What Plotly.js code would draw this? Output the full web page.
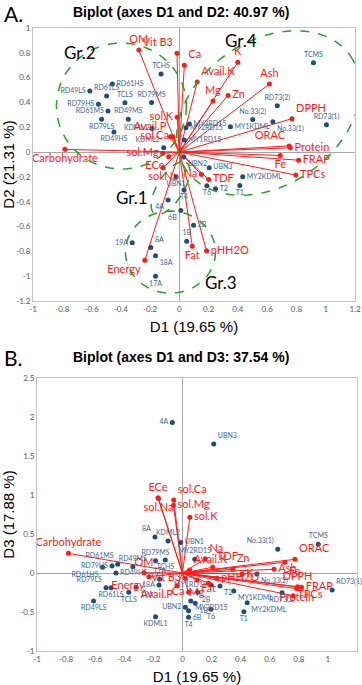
<!DOCTYPE html>
<html><head><meta charset="utf-8">
<script src="https://cdn.plot.ly/plotly-3.0.1.min.js"></script>
<style>html,body{margin:0;padding:0;background:#fff}#c{width:362px;height:685px}</style>
</head><body><div id="c"></div>
<script>
// ---------- Panel A (D1 vs D2) ----------
const sampleNamesA = ["RD61HS","RD49LS","RD61LS","TCLS","RD79MS","RD79HS","RD61MS","TCHS","RD49MS","RD79LS","RD49HS","KDML1","KDML2","UBN1","UBN2","UBN3","4A","6B","2B","1B","19A","8A","18A","17A","T1","T2","T4","T6","TCMS","RD73(1)","RD73(2)","No.33(1)","No.33(2)","MY1KDML","MY2KDML","MY1RD15","MY2RD15","MY3RD15"];
const sampleD1A = [-0.458,-0.612,-0.497,-0.372,-0.19,-0.553,-0.488,-0.125,-0.349,-0.531,-0.447,-0.186,-0.107,-0.022,0.03,0.204,-0.077,0.01,0.097,0.05,-0.322,-0.195,-0.163,-0.163,0.413,0.247,0.032,0.188,0.916,1.005,0.669,0.639,0.501,0.349,0.433,0.034,0.045,0.068];
const sampleD2A = [0.548,0.492,0.452,0.398,0.40,0.385,0.331,0.629,0.264,0.264,0.161,0.191,0.035,-0.199,-0.04,-0.126,-0.387,-0.47,-0.589,-0.718,-0.731,-0.769,-0.836,-1.0,-0.269,-0.296,-0.306,-0.271,0.72,0.22,0.374,0.245,0.262,0.204,-0.199,0.097,0.196,0.226];
const sampleLabPosA = ["middle right","middle left","top center","top center","top center","middle left","middle left","top center","top center","bottom center","bottom center","middle left","top left","bottom center","bottom right","middle right","bottom left","bottom left","middle right","top center","middle left","top right","bottom right","bottom center","bottom center","middle right","bottom center","bottom center","top center","top center","top center","bottom right","top center","middle right","middle right","middle right","middle right","middle right"];

const varNamesA = ["OM","Vit B3","Ca","K","Avail.K","Ash","Zn","Mg","DPPH","ORAC","Protein","Fe","FRAP","TPCs","Na","TDF","Carbohydrate","Avail.P","sol.Ca","sol.Mg","ECe","sol.Na","sol.K","Energy","Fat","pHH2O"];
const varD1A = [-0.277,-0.016,0.034,0.399,0.122,0.615,0.333,0.229,0.769,0.75,0.758,0.689,0.814,0.796,0.15,0.2,-0.782,-0.061,-0.043,-0.114,-0.073,-0.111,-0.015,-0.236,0.088,0.186];
const varD2A = [0.823,0.796,0.70,0.723,0.565,0.548,0.457,0.411,0.269,0.05,0.035,-0.027,-0.065,-0.185,-0.18,-0.22,0.022,0.124,0.124,-0.011,-0.038,-0.126,0.28,-0.871,-0.758,-0.796];
const varLabPosA = ["top center","top left","top right","top center","top right","top center","middle right","top center","top right","top left","middle right","bottom center","middle right","middle right","middle left","middle right","bottom center","top left","middle left","middle left","bottom left","bottom center","middle left","bottom left","bottom center","middle right"];

// ---------- Panel B (D1 vs D3) ----------
const sampleNamesB = ["4A","UBN3","8A","KDML2","UBN1","MY2RD15","RD79MS","TCHS","RD61MS","RD79HS","RD49MS","RD61HS","RD49HS","RD79LS","RD61LS","TCLS","19A","18A","17A","RD49LS","KDML1","UBN2","MY1RD15","MY3RD15","1B","2B","6B","T4","T6","T2","MY1KDML","MY2KDML","T1","No.33(2)","No.33(1)","TCMS","RD73(2)","RD73(1)"];
const sampleD1B = [-0.069,0.215,-0.189,-0.099,-0.012,0.085,-0.185,-0.118,-0.445,-0.484,-0.341,-0.549,-0.457,-0.526,-0.491,-0.369,-0.318,-0.161,-0.157,-0.611,-0.185,0.02,0.196,0.057,0.088,0.104,0.042,0.042,0.196,0.258,0.353,0.445,0.422,0.512,0.655,0.934,0.685,1.029];
const sampleD3B = [1.93,1.654,0.46,0.41,0.39,0.176,0.158,0.167,0.112,0.09,0.081,0.073,0.0,-0.188,-0.188,-0.248,-0.184,-0.154,-0.081,-0.359,-0.56,-0.44,-0.154,-0.359,-0.389,-0.248,-0.483,-0.568,-0.466,-0.167,-0.231,-0.38,-0.496,-0.013,0.303,0.368,-0.252,-0.218];
const sampleLabPosB = ["middle left","top right","top left","top center","middle right","top center","top center","bottom center","top left","middle left","top center","bottom left","middle right","top left","bottom center","bottom center","bottom right","middle left","top center","bottom center","bottom center","middle left","middle left","bottom right","bottom right","bottom right","bottom right","bottom center","bottom center","bottom right","bottom right","bottom right","bottom center","bottom right","top left","top center","bottom center","top right"];

const varNamesB = ["ECe","sol.Ca","sol.Na","sol.Mg","sol.K","Na","TDF","Zn","ORAC","Fe","Ash","K","DPPH","FRAP","TPCs","Protein","Carbohydrate","OM","Energy","Vit B3","Avail.P","Ca","Mg","pHH2O","Avail.K","Fat"];
const varD1B = [-0.168,-0.06,-0.165,-0.062,0.051,0.157,0.208,0.346,0.773,0.704,0.63,0.41,0.791,0.819,0.761,0.785,-0.784,-0.265,-0.231,0.02,-0.037,0.042,0.18,0.237,0.05,0.1];
const varD3B = [0.965,0.936,0.955,0.87,0.714,0.183,0.073,0.047,0.175,0.137,0.047,-0.013,-0.175,-0.184,-0.291,-0.2,0.252,0.004,-0.047,-0.07,-0.163,-0.248,-0.13,-0.068,0.04,-0.09];
const varLabPosB = ["top center","top right","bottom center","middle right","middle right","top right","top right","top right","top right","bottom right","middle right","middle right","top center","middle right","middle right","bottom center","top center","top center","bottom left","middle left","bottom left","middle left","bottom left","middle right","top right","bottom right"];

// tick labels
const xTickVals = [-1,-0.8,-0.6,-0.4,-0.2,0,0.2,0.4,0.6,0.8,1,1.2];
const xTickText = ["-1","-0.8","-0.6","-0.4","-0.2","0","0.2","0.4","0.6","0.8","1","1.2"];
const yTickValsA = [-1.2,-1,-0.8,-0.6,-0.4,-0.2,0,0.2,0.4,0.6,0.8,1];
const yTickTextA = ["-1.2","-1","-0.8","-0.6","-0.4","-0.2","0","0.2","0.4","0.6","0.8","1"];
const yTickValsB = [-1,-0.5,0,0.5,1,1.5,2,2.5];
const yTickTextB = ["-1","-0.5","0","0.5","1","1.5","2","2.5"];

const BLUE = "#1f4e79", BLUE_T = "#3a6898", RED = "#ff1a1a", GREEN = "#27a027";
const LF = "Lato, 'Liberation Sans', sans-serif";
const AF = "'Liberation Sans', Arial, sans-serif";

function vecLines(xs, ys){ const X=[],Y=[]; xs.forEach((v,i)=>{X.push(0,v,null);Y.push(0,ys[i],null);}); return [X,Y]; }

function panelTraces(sx, sy, sn, sp, vx, vy, vn, vp, xa, ya){
  const [lx,ly] = vecLines(vx,vy);
  return [
    {type:"scatter",mode:"lines",x:lx,y:ly,xaxis:xa,yaxis:ya,line:{color:RED,width:1},hoverinfo:"skip",showlegend:false},
    {type:"scatter",mode:"markers+text",x:sx,y:sy,text:sn,textposition:sp,xaxis:xa,yaxis:ya,
      marker:{color:BLUE,size:5},textfont:{family:LF,size:7,color:BLUE_T},showlegend:false,cliponaxis:false},
    {type:"scatter",mode:"markers+text",x:vx,y:vy,text:vn,textposition:vp,xaxis:xa,yaxis:ya,
      marker:{color:RED,size:5},textfont:{family:LF,size:11,color:RED},showlegend:false,cliponaxis:false}
  ];
}

const data = [
  ...panelTraces(sampleD1A,sampleD2A,sampleNamesA,sampleLabPosA,varD1A,varD2A,varNamesA,varLabPosA,"x","y"),
  ...panelTraces(sampleD1B,sampleD3B,sampleNamesB,sampleLabPosB,varD1B,varD3B,varNamesB,varLabPosB,"x2","y2")
];

// ellipse outlines (group envelopes) in pixel geometry converted to data units
const W=362,H=685;
const sxA = 322/2.2, syA = 273/2.2;
function ellipsePath(cx, cy, a, b, angDeg, sx, sy){
  const th = angDeg*Math.PI/180; let d="";
  for(let i=0;i<=72;i++){
    const t = i/72*2*Math.PI;
    const px = a*Math.cos(t)*Math.cos(th) - b*Math.sin(t)*Math.sin(th);
    const py = a*Math.cos(t)*Math.sin(th) + b*Math.sin(t)*Math.cos(th);
    const X = cx + px/sx, Y = cy - py/sy;
    d += (i===0?"M":"L") + X.toFixed(4) + "," + Y.toFixed(4);
  }
  return d + "Z";
}
const groupShapes = [
  {c:[-0.396,0.371],a:65,b:63,ang:0},
  {c:[0.608,0.315],a:100,b:72,ang:-35},
  {c:[-0.061,-0.29],a:30,b:13,ang:-58},
  {c:[-0.061,-0.806],a:45,b:41,ang:0}
].map(e=>({type:"path",xref:"x",yref:"y",path:ellipsePath(e.c[0],e.c[1],e.a,e.b,e.ang,sxA,syA),
  line:{color:GREEN,width:1.5,dash:"dash"},fillcolor:"rgba(0,0,0,0)"}));

const tickFont = {family:LF,size:8,color:"#595959"};
function axis(domain, range, tv, tt, anchor, title, standoff){
  return {domain, range, anchor, tickmode:"array", tickvals:tv, ticktext:tt, tickfont:tickFont,
    showgrid:false, zeroline:true, zerolinecolor:"#a6a6a6", zerolinewidth:1,
    showline:true, mirror:true, linecolor:"#c4c4c4", linewidth:1, ticks:"", fixedrange:true,
    title:{text:title, standoff:standoff, font:{family:AF, size:15, color:"#000"}}};
}

const layout = {
  width:W, height:H, margin:{l:0,r:0,t:0,b:0}, paper_bgcolor:"#fff", plot_bgcolor:"#fff", showlegend:false,
  xaxis: axis([33/W,355/W],[-1,1.2],xTickVals,xTickText,"y","D1 (19.65 %)",8),
  yaxis: axis([1-301/H,1-28/H],[-1.2,1],yTickValsA,yTickTextA,"x","D2 (21.31 %)",6),
  xaxis2: axis([37/W,357/W],[-1,1.2],xTickVals,xTickText,"y2","D1 (19.65 %)",8),
  yaxis2: axis([1-651/H,1-378/H],[-1,2.5],yTickValsB,yTickTextB,"x2","D3 (17.88 %)",6),
  shapes: groupShapes,
  annotations: [
    {text:"A.",xref:"paper",yref:"paper",x:3/W,y:1,xanchor:"left",yanchor:"top",borderpad:0,showarrow:false,font:{family:LF,size:21,color:"#000"}},
    {text:"B.",xref:"paper",yref:"paper",x:3/W,y:1-344/H,xanchor:"left",yanchor:"top",borderpad:0,showarrow:false,font:{family:LF,size:21,color:"#000"}},
    {text:"<b>Biplot (axes D1 and D2: 40.97 %)</b>",xref:"paper",yref:"paper",x:181/W,y:1-12/H,xanchor:"center",yanchor:"middle",showarrow:false,font:{family:AF,size:14,color:"#000"}},
    {text:"<b>Biplot (axes D1 and D3: 37.54 %)</b>",xref:"paper",yref:"paper",x:181/W,y:1-357/H,xanchor:"center",yanchor:"middle",showarrow:false,font:{family:AF,size:14,color:"#000"}},
    {text:"Gr.2",xref:"x",yref:"y",x:-0.80,y:0.806,xanchor:"left",yanchor:"middle",showarrow:false,font:{family:LF,size:17,color:"#000"}},
    {text:"Gr.4",xref:"x",yref:"y",x:0.30,y:0.90,xanchor:"left",yanchor:"middle",showarrow:false,font:{family:LF,size:17,color:"#000"}},
    {text:"Gr.1",xref:"x",yref:"y",x:-0.45,y:-0.37,xanchor:"left",yanchor:"middle",showarrow:false,font:{family:LF,size:17,color:"#000"}},
    {text:"Gr.3",xref:"x",yref:"y",x:0.16,y:-1.05,xanchor:"left",yanchor:"middle",showarrow:false,font:{family:LF,size:17,color:"#000"}}
  ]
};
Plotly.newPlot("c", data, layout, {displayModeBar:false, staticPlot:true});
</script></body></html>
